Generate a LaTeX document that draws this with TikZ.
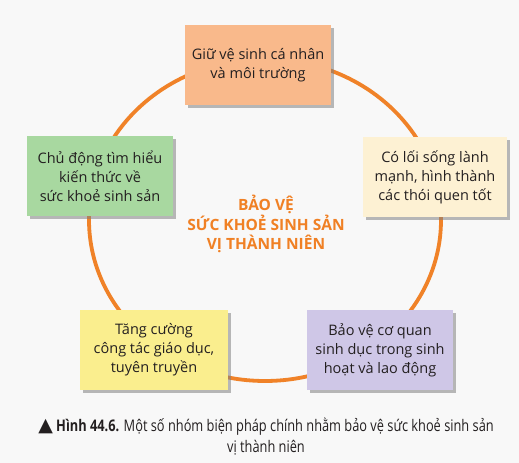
\documentclass[tikz,border=0pt]{standalone}
\usepackage{fontspec}
\setmainfont{Open Sans}
\newfontfamily\capfont[FakeStretch=0.80]{Open Sans}
\newfontfamily\symfont{DejaVu Sans}
\usetikzlibrary{shadows}
\definecolor{ringorange}{RGB}{240,130,40}
\definecolor{titleorange}{RGB}{240,128,36}
\definecolor{boxorange}{RGB}{249,185,139}
\definecolor{boxgreen}{RGB}{168,216,160}
\definecolor{boxcream}{RGB}{253,241,211}
\definecolor{boxyellow}{RGB}{250,238,142}
\definecolor{boxpurple}{RGB}{207,199,231}
\definecolor{inktext}{RGB}{35,31,32}
\definecolor{bgpaper}{RGB}{248,248,248}

\begin{document}
\begin{tikzpicture}[x=1bp, y=-1bp,
        every node/.append style={text=inktext, inner sep=0pt},
        ring/.style={draw=ringorange, line width=3.8bp}]
      \tikzstyle{box} = [rectangle, minimum width=146bp, minimum height=80bp,
        align=center, font=\fontsize{14.5bp}{19bp}\selectfont,
        drop shadow={shadow xshift=3bp, shadow yshift=-3bp, opacity=0.55}]
      \fill[bgpaper] (0,0) rectangle (519,463);
      \useasboundingbox (0,0) rectangle (519,463);
      \draw[ring] (265,220) ellipse [x radius=176, y radius=161];
      % the five measures round the ring
      \node (hygiene) [box, fill=boxorange] at (258,65) {Giữ vệ sinh cá nhân\\và môi trường};
      \node (lifestyle) [box, fill=boxcream, minimum width=144bp] at (435,177) {Có lối sống lành\\mạnh, hình thành\\các thói quen tốt};
      \node (organs) [box, fill=boxpurple] at (380,350) {Bảo vệ cơ quan\\sinh dục trong sinh\\hoạt và lao động};
      \node (education) [box, fill=boxyellow, minimum width=148bp] at (154,350) {Tăng cường\\công tác giáo dục,\\tuyên truyền};
      \node (knowledge) [box, fill=boxgreen] at (100,176) {Chủ động tìm hiểu\\kiến thức về\\sức khoẻ sinh sản};
      % centre title
      \node (title) [align=center, text=titleorange, font=\fontsize{15.5bp}{19.5bp}\selectfont\bfseries] at (266,224)
        {BẢO VỆ\\SỨC KHOẺ SINH SẢN\\VỊ THÀNH NIÊN};
      % caption
      \node (caption) [align=center, font=\capfont\fontsize{16bp}{21bp}\selectfont] at (266,437)
        {{\symfont\fontsize{19bp}{21bp}\selectfont ▲} \textbf{Hình 44.6.} Một số nhóm biện pháp chính nhằm bảo vệ sức khoẻ sinh sản\\vị thành niên};
    \end{tikzpicture}
\end{document}
